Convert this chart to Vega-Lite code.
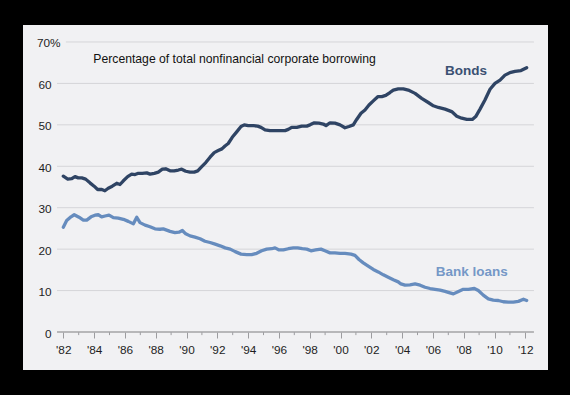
{
  "$schema": "https://vega.github.io/schema/vega-lite/v6.json",
  "width": 525,
  "height": 345,
  "autosize": {"type": "none"},
  "padding": {"left": 23, "top": 25, "right": 22, "bottom": 25},
  "background": "black",
  "config": {"view": {"fill": "#f1f1f3", "stroke": null}, "axis": {"labelOverlap": false, "labelFlush": false, "labelBound": false}},
  "layer": [
    {
      "data": {"values": [{"g": 10}, {"g": 20}, {"g": 30}, {"g": 40}, {"g": 50}, {"g": 60}]},
      "mark": {"type": "rule", "color": "#d5d5d8", "strokeWidth": 1},
      "encoding": {
        "y": {"field": "g", "type": "quantitative", "scale": {"domain": [-9.17, 74.1], "nice": false, "zero": false}},
        "x": {"datum": 1981.59, "type": "quantitative", "scale": {"domain": [1979.383, 2013.474], "nice": false, "zero": false}},
        "x2": {"datum": 2012.56}
      }
    },
    {
      "data": {"values": [{}]},
      "mark": {"type": "rule", "color": "#d5d5d8", "strokeWidth": 1},
      "encoding": {
        "y": {"datum": 70, "type": "quantitative"},
        "x": {"datum": 1982.17, "type": "quantitative"},
        "x2": {"datum": 2012.56}
      }
    },
    {
      "data": {"values": [{"yr": 1983}, {"yr": 1985}, {"yr": 1987}, {"yr": 1989}, {"yr": 1991}, {"yr": 1993}, {"yr": 1995}, {"yr": 1997}, {"yr": 1999}, {"yr": 2001}, {"yr": 2003}, {"yr": 2005}, {"yr": 2007}, {"yr": 2009}, {"yr": 2011}]},
      "mark": {"type": "rule", "color": "#9c9c9f", "strokeWidth": 1},
      "encoding": {
        "x": {"field": "yr", "type": "quantitative"},
        "y": {"datum": 0, "type": "quantitative"},
        "y2": {"datum": -0.75}
      }
    },
    {
      "data": {"values": [{}]},
      "mark": {"type": "rule", "color": "#a3a3a6", "strokeWidth": 1.5},
      "encoding": {
        "y": {"datum": 0, "type": "quantitative"},
        "x": {"datum": 1981.59, "type": "quantitative"},
        "x2": {"datum": 2012.56}
      }
    },
    {
      "data": {"values": [
        {"s": "Bonds", "t": 1982.0, "v": 37.6}, {"s": "Bonds", "t": 1982.29, "v": 36.9}, {"s": "Bonds", "t": 1982.55, "v": 37.0}, {"s": "Bonds", "t": 1982.76, "v": 37.5}, {"s": "Bonds", "t": 1982.97, "v": 37.2}, {"s": "Bonds", "t": 1983.2, "v": 37.2}, {"s": "Bonds", "t": 1983.45, "v": 36.9}, {"s": "Bonds", "t": 1983.73, "v": 36.0}, {"s": "Bonds", "t": 1984.0, "v": 35.2}, {"s": "Bonds", "t": 1984.23, "v": 34.4}, {"s": "Bonds", "t": 1984.5, "v": 34.4}, {"s": "Bonds", "t": 1984.7, "v": 34.1}, {"s": "Bonds", "t": 1984.92, "v": 34.7}, {"s": "Bonds", "t": 1985.18, "v": 35.2}, {"s": "Bonds", "t": 1985.47, "v": 35.9}, {"s": "Bonds", "t": 1985.68, "v": 35.6}, {"s": "Bonds", "t": 1985.9, "v": 36.5}, {"s": "Bonds", "t": 1986.18, "v": 37.5}, {"s": "Bonds", "t": 1986.44, "v": 38.1}, {"s": "Bonds", "t": 1986.66, "v": 38.0}, {"s": "Bonds", "t": 1986.87, "v": 38.3}, {"s": "Bonds", "t": 1987.13, "v": 38.3}, {"s": "Bonds", "t": 1987.42, "v": 38.4}, {"s": "Bonds", "t": 1987.63, "v": 38.1}, {"s": "Bonds", "t": 1987.91, "v": 38.3}, {"s": "Bonds", "t": 1988.17, "v": 38.6}, {"s": "Bonds", "t": 1988.43, "v": 39.3}, {"s": "Bonds", "t": 1988.65, "v": 39.4}, {"s": "Bonds", "t": 1988.93, "v": 38.9}, {"s": "Bonds", "t": 1989.2, "v": 38.9}, {"s": "Bonds", "t": 1989.47, "v": 39.1}, {"s": "Bonds", "t": 1989.69, "v": 39.3}, {"s": "Bonds", "t": 1989.95, "v": 38.8}, {"s": "Bonds", "t": 1990.23, "v": 38.6}, {"s": "Bonds", "t": 1990.5, "v": 38.6}, {"s": "Bonds", "t": 1990.73, "v": 38.9}, {"s": "Bonds", "t": 1990.99, "v": 39.9}, {"s": "Bonds", "t": 1991.25, "v": 40.9}, {"s": "Bonds", "t": 1991.53, "v": 42.2}, {"s": "Bonds", "t": 1991.8, "v": 43.3}, {"s": "Bonds", "t": 1992.06, "v": 43.8}, {"s": "Bonds", "t": 1992.3, "v": 44.2}, {"s": "Bonds", "t": 1992.5, "v": 44.9}, {"s": "Bonds", "t": 1992.71, "v": 45.5}, {"s": "Bonds", "t": 1992.97, "v": 47.0}, {"s": "Bonds", "t": 1993.26, "v": 48.3}, {"s": "Bonds", "t": 1993.54, "v": 49.6}, {"s": "Bonds", "t": 1993.75, "v": 50.0}, {"s": "Bonds", "t": 1994.01, "v": 49.8}, {"s": "Bonds", "t": 1994.34, "v": 49.8}, {"s": "Bonds", "t": 1994.62, "v": 49.7}, {"s": "Bonds", "t": 1994.84, "v": 49.4}, {"s": "Bonds", "t": 1995.1, "v": 48.8}, {"s": "Bonds", "t": 1995.42, "v": 48.6}, {"s": "Bonds", "t": 1995.75, "v": 48.6}, {"s": "Bonds", "t": 1996.07, "v": 48.6}, {"s": "Bonds", "t": 1996.4, "v": 48.6}, {"s": "Bonds", "t": 1996.61, "v": 48.9}, {"s": "Bonds", "t": 1996.83, "v": 49.4}, {"s": "Bonds", "t": 1997.16, "v": 49.4}, {"s": "Bonds", "t": 1997.48, "v": 49.7}, {"s": "Bonds", "t": 1997.81, "v": 49.7}, {"s": "Bonds", "t": 1998.02, "v": 50.0}, {"s": "Bonds", "t": 1998.3, "v": 50.5}, {"s": "Bonds", "t": 1998.6, "v": 50.4}, {"s": "Bonds", "t": 1998.88, "v": 50.2}, {"s": "Bonds", "t": 1999.06, "v": 49.8}, {"s": "Bonds", "t": 1999.32, "v": 50.5}, {"s": "Bonds", "t": 1999.64, "v": 50.4}, {"s": "Bonds", "t": 1999.97, "v": 50.0}, {"s": "Bonds", "t": 2000.29, "v": 49.3}, {"s": "Bonds", "t": 2000.55, "v": 49.6}, {"s": "Bonds", "t": 2000.83, "v": 50.0}, {"s": "Bonds", "t": 2001.05, "v": 51.3}, {"s": "Bonds", "t": 2001.33, "v": 52.8}, {"s": "Bonds", "t": 2001.59, "v": 53.6}, {"s": "Bonds", "t": 2001.85, "v": 54.8}, {"s": "Bonds", "t": 2002.13, "v": 55.8}, {"s": "Bonds", "t": 2002.42, "v": 56.8}, {"s": "Bonds", "t": 2002.68, "v": 56.8}, {"s": "Bonds", "t": 2002.94, "v": 57.1}, {"s": "Bonds", "t": 2003.21, "v": 57.8}, {"s": "Bonds", "t": 2003.43, "v": 58.4}, {"s": "Bonds", "t": 2003.75, "v": 58.7}, {"s": "Bonds", "t": 2004.08, "v": 58.7}, {"s": "Bonds", "t": 2004.4, "v": 58.4}, {"s": "Bonds", "t": 2004.84, "v": 57.6}, {"s": "Bonds", "t": 2005.27, "v": 56.4}, {"s": "Bonds", "t": 2005.7, "v": 55.4}, {"s": "Bonds", "t": 2006.03, "v": 54.6}, {"s": "Bonds", "t": 2006.35, "v": 54.2}, {"s": "Bonds", "t": 2006.79, "v": 53.8}, {"s": "Bonds", "t": 2007.22, "v": 53.2}, {"s": "Bonds", "t": 2007.55, "v": 52.1}, {"s": "Bonds", "t": 2007.87, "v": 51.6}, {"s": "Bonds", "t": 2008.2, "v": 51.3}, {"s": "Bonds", "t": 2008.56, "v": 51.3}, {"s": "Bonds", "t": 2008.78, "v": 52.0}, {"s": "Bonds", "t": 2009.06, "v": 53.8}, {"s": "Bonds", "t": 2009.38, "v": 56.0}, {"s": "Bonds", "t": 2009.71, "v": 58.6}, {"s": "Bonds", "t": 2010.03, "v": 60.0}, {"s": "Bonds", "t": 2010.36, "v": 60.8}, {"s": "Bonds", "t": 2010.68, "v": 62.0}, {"s": "Bonds", "t": 2011.0, "v": 62.6}, {"s": "Bonds", "t": 2011.33, "v": 62.9}, {"s": "Bonds", "t": 2011.72, "v": 63.1}, {"s": "Bonds", "t": 2012.09, "v": 63.8},
        {"s": "Bank loans", "t": 1982.0, "v": 25.3}, {"s": "Bank loans", "t": 1982.22, "v": 26.9}, {"s": "Bank loans", "t": 1982.5, "v": 27.8}, {"s": "Bank loans", "t": 1982.71, "v": 28.3}, {"s": "Bank loans", "t": 1983.02, "v": 27.7}, {"s": "Bank loans", "t": 1983.3, "v": 27.0}, {"s": "Bank loans", "t": 1983.52, "v": 27.0}, {"s": "Bank loans", "t": 1983.8, "v": 27.8}, {"s": "Bank loans", "t": 1984.06, "v": 28.2}, {"s": "Bank loans", "t": 1984.27, "v": 28.3}, {"s": "Bank loans", "t": 1984.49, "v": 27.8}, {"s": "Bank loans", "t": 1984.71, "v": 28.0}, {"s": "Bank loans", "t": 1984.97, "v": 28.2}, {"s": "Bank loans", "t": 1985.25, "v": 27.6}, {"s": "Bank loans", "t": 1985.57, "v": 27.5}, {"s": "Bank loans", "t": 1985.9, "v": 27.2}, {"s": "Bank loans", "t": 1986.22, "v": 26.7}, {"s": "Bank loans", "t": 1986.55, "v": 26.1}, {"s": "Bank loans", "t": 1986.77, "v": 27.7}, {"s": "Bank loans", "t": 1986.98, "v": 26.4}, {"s": "Bank loans", "t": 1987.31, "v": 25.8}, {"s": "Bank loans", "t": 1987.63, "v": 25.4}, {"s": "Bank loans", "t": 1987.95, "v": 24.9}, {"s": "Bank loans", "t": 1988.28, "v": 24.8}, {"s": "Bank loans", "t": 1988.49, "v": 24.9}, {"s": "Bank loans", "t": 1988.71, "v": 24.6}, {"s": "Bank loans", "t": 1988.93, "v": 24.3}, {"s": "Bank loans", "t": 1989.25, "v": 24.0}, {"s": "Bank loans", "t": 1989.51, "v": 24.1}, {"s": "Bank loans", "t": 1989.73, "v": 24.5}, {"s": "Bank loans", "t": 1989.95, "v": 23.7}, {"s": "Bank loans", "t": 1990.23, "v": 23.2}, {"s": "Bank loans", "t": 1990.55, "v": 22.9}, {"s": "Bank loans", "t": 1990.88, "v": 22.5}, {"s": "Bank loans", "t": 1991.2, "v": 21.9}, {"s": "Bank loans", "t": 1991.53, "v": 21.6}, {"s": "Bank loans", "t": 1991.86, "v": 21.2}, {"s": "Bank loans", "t": 1992.18, "v": 20.8}, {"s": "Bank loans", "t": 1992.51, "v": 20.3}, {"s": "Bank loans", "t": 1992.84, "v": 20.0}, {"s": "Bank loans", "t": 1993.16, "v": 19.4}, {"s": "Bank loans", "t": 1993.54, "v": 18.8}, {"s": "Bank loans", "t": 1993.91, "v": 18.7}, {"s": "Bank loans", "t": 1994.23, "v": 18.7}, {"s": "Bank loans", "t": 1994.56, "v": 19.0}, {"s": "Bank loans", "t": 1994.88, "v": 19.6}, {"s": "Bank loans", "t": 1995.21, "v": 20.0}, {"s": "Bank loans", "t": 1995.53, "v": 20.1}, {"s": "Bank loans", "t": 1995.75, "v": 20.3}, {"s": "Bank loans", "t": 1996.01, "v": 19.8}, {"s": "Bank loans", "t": 1996.29, "v": 19.8}, {"s": "Bank loans", "t": 1996.61, "v": 20.1}, {"s": "Bank loans", "t": 1996.94, "v": 20.3}, {"s": "Bank loans", "t": 1997.22, "v": 20.3}, {"s": "Bank loans", "t": 1997.52, "v": 20.1}, {"s": "Bank loans", "t": 1997.81, "v": 20.0}, {"s": "Bank loans", "t": 1998.08, "v": 19.6}, {"s": "Bank loans", "t": 1998.39, "v": 19.8}, {"s": "Bank loans", "t": 1998.73, "v": 20.0}, {"s": "Bank loans", "t": 1998.99, "v": 19.6}, {"s": "Bank loans", "t": 1999.32, "v": 19.1}, {"s": "Bank loans", "t": 1999.64, "v": 19.1}, {"s": "Bank loans", "t": 1999.97, "v": 19.0}, {"s": "Bank loans", "t": 2000.29, "v": 19.0}, {"s": "Bank loans", "t": 2000.68, "v": 18.8}, {"s": "Bank loans", "t": 2000.94, "v": 18.5}, {"s": "Bank loans", "t": 2001.2, "v": 17.5}, {"s": "Bank loans", "t": 2001.48, "v": 16.7}, {"s": "Bank loans", "t": 2001.8, "v": 15.9}, {"s": "Bank loans", "t": 2002.13, "v": 15.1}, {"s": "Bank loans", "t": 2002.45, "v": 14.5}, {"s": "Bank loans", "t": 2002.78, "v": 13.8}, {"s": "Bank loans", "t": 2003.1, "v": 13.2}, {"s": "Bank loans", "t": 2003.43, "v": 12.6}, {"s": "Bank loans", "t": 2003.75, "v": 12.1}, {"s": "Bank loans", "t": 2003.92, "v": 11.6}, {"s": "Bank loans", "t": 2004.19, "v": 11.3}, {"s": "Bank loans", "t": 2004.51, "v": 11.4}, {"s": "Bank loans", "t": 2004.84, "v": 11.6}, {"s": "Bank loans", "t": 2005.17, "v": 11.3}, {"s": "Bank loans", "t": 2005.49, "v": 10.8}, {"s": "Bank loans", "t": 2005.82, "v": 10.5}, {"s": "Bank loans", "t": 2006.14, "v": 10.3}, {"s": "Bank loans", "t": 2006.47, "v": 10.1}, {"s": "Bank loans", "t": 2006.79, "v": 9.8}, {"s": "Bank loans", "t": 2007.05, "v": 9.5}, {"s": "Bank loans", "t": 2007.33, "v": 9.2}, {"s": "Bank loans", "t": 2007.66, "v": 9.8}, {"s": "Bank loans", "t": 2007.97, "v": 10.3}, {"s": "Bank loans", "t": 2008.3, "v": 10.3}, {"s": "Bank loans", "t": 2008.69, "v": 10.5}, {"s": "Bank loans", "t": 2008.95, "v": 10.0}, {"s": "Bank loans", "t": 2009.27, "v": 8.9}, {"s": "Bank loans", "t": 2009.6, "v": 8.0}, {"s": "Bank loans", "t": 2009.92, "v": 7.7}, {"s": "Bank loans", "t": 2010.25, "v": 7.6}, {"s": "Bank loans", "t": 2010.57, "v": 7.3}, {"s": "Bank loans", "t": 2010.9, "v": 7.2}, {"s": "Bank loans", "t": 2011.22, "v": 7.2}, {"s": "Bank loans", "t": 2011.55, "v": 7.4}, {"s": "Bank loans", "t": 2011.88, "v": 7.9}, {"s": "Bank loans", "t": 2012.09, "v": 7.6}
      ]},
      "mark": {"type": "line", "strokeWidth": 3.3, "strokeJoin": "round", "strokeCap": "round"},
      "encoding": {
        "x": {
          "field": "t", "type": "quantitative",
          "scale": {"domain": [1979.383, 2013.474], "nice": false, "zero": false},
          "axis": {
            "values": [1982, 1984, 1986, 1988, 1990, 1992, 1994, 1996, 1998, 2000, 2002, 2004, 2006, 2008, 2010, 2012],
            "tickCount": 40,
            "labelExpr": "\"'\" + substring(toString(datum.value), 2, 4)",
            "tickSize": 6,
            "tickColor": "#9c9c9f",
            "tickWidth": 1,
            "offset": -38,
            "domain": false,
            "grid": false,
            "title": null,
            "labelPadding": 6,
            "labelFont": "Liberation Sans",
            "labelFontSize": 11.8,
            "labelColor": "#1e1e1e",
            "labelFlush": false,
            "labelOverlap": false
          }
        },
        "y": {
          "field": "v", "type": "quantitative",
          "scale": {"domain": [-9.17, 74.1], "nice": false, "zero": false},
          "axis": {
            "values": [0, 10, 20, 30, 40, 50, 60, 70],
            "tickCount": 20,
            "labelExpr": "datum.value == 70 ? '70%' : datum.label",
            "grid": false,
            "domain": false,
            "ticks": false,
            "tickSize": 0,
            "title": null,
            "labelAlign": "right",
            "labelPadding": {"condition": {"test": "datum.value == 70", "value": -37}, "value": -28},
            "labelBaseline": "middle",
            "labelOffset": 1,
            "labelFont": "Liberation Sans",
            "labelFontSize": 11.8,
            "labelColor": "#1e1e1e"
          }
        },
        "color": {
          "field": "s", "type": "nominal",
          "scale": {"domain": ["Bonds", "Bank loans"], "range": ["#2f4464", "#668cbe"]},
          "legend": null
        }
      }
    },
    {
      "data": {"values": [{}]},
      "mark": {"type": "text", "text": "Percentage of total nonfinancial corporate borrowing", "align": "left", "baseline": "alphabetic", "font": "Liberation Sans", "fontSize": 12.2, "color": "#111111"},
      "encoding": {
        "x": {"datum": 1983.95, "type": "quantitative"},
        "y": {"datum": 64.86, "type": "quantitative"}
      }
    },
    {
      "data": {"values": [{}]},
      "mark": {"type": "text", "text": "Bonds", "align": "center", "baseline": "middle", "font": "Liberation Sans", "fontSize": 13.5, "fontWeight": "bold", "color": "#3b5072"},
      "encoding": {
        "x": {"datum": 2008.15, "type": "quantitative"},
        "y": {"datum": 63.1, "type": "quantitative"}
      }
    },
    {
      "data": {"values": [{}]},
      "mark": {"type": "text", "text": "Bank loans", "align": "center", "baseline": "middle", "font": "Liberation Sans", "fontSize": 13.5, "fontWeight": "bold", "color": "#7598c7"},
      "encoding": {
        "x": {"datum": 2008.52, "type": "quantitative"},
        "y": {"datum": 14.5, "type": "quantitative"}
      }
    }
  ]
}
